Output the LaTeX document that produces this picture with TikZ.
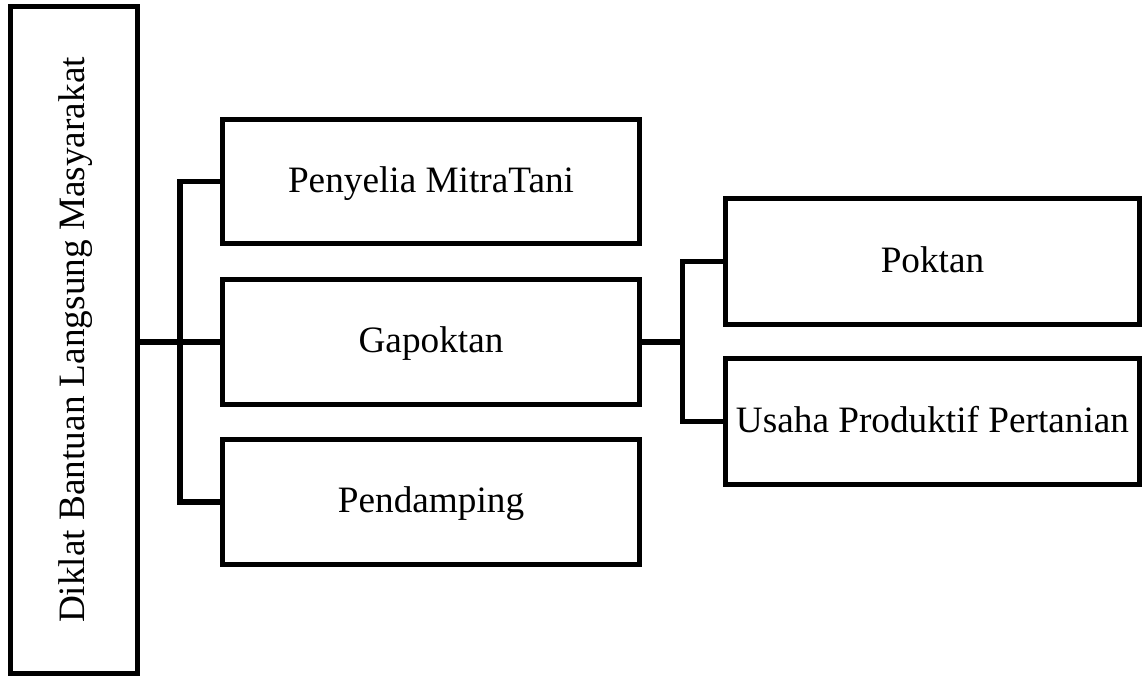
\documentclass[tikz,border=0pt]{standalone}
\usepackage{fontspec}
\setmainfont{Liberation Serif}
\usetikzlibrary{positioning, calc}

\begin{document}
\begin{tikzpicture}[x=0.02cm, y=-0.02cm, line width=2.85pt,
  box/.style={draw, inner sep=0pt, text height=0.55cm, text depth=0.11cm, font=\fontsize{21.2}{25}\selectfont},
  midbox/.style={box, minimum width=8.36cm, minimum height=2.5cm},
  rightbox/.style={box, minimum width=8.3cm, minimum height=2.52cm}]

\useasboundingbox (0,0) rectangle (1143,678);

%boxes
  \node[box, rotate=90, minimum width=13.36cm, minimum height=2.55cm] (diklat) at (74,340) {Diklat Bantuan Langsung Masyarakat};
  \node[midbox] (penyelia) at (431,181.5) {Penyelia MitraTani};
  \node[midbox] (gapoktan) at (431,342) {Gapoktan};
  \node[midbox] (pendamping) at (431,502) {Pendamping};
  \node[rightbox] (poktan) at (932.5,261.5) {Poktan};
  \node[rightbox] (usaha) at (932.5,421.5) {Usaha Produktif Pertanian};

%joints
  \coordinate (jointL) at (180,342);
  \coordinate (jointR) at (682,342);

%connectors
  \draw (diklat.south |- gapoktan.west) -- (gapoktan.west);
  \draw (penyelia.west) -| (jointL) |- (pendamping.west);
  \draw (gapoktan.east) -- (jointR);
  \draw (poktan.west) -| (jointR) |- (usaha.west);
\end{tikzpicture}
\end{document}
